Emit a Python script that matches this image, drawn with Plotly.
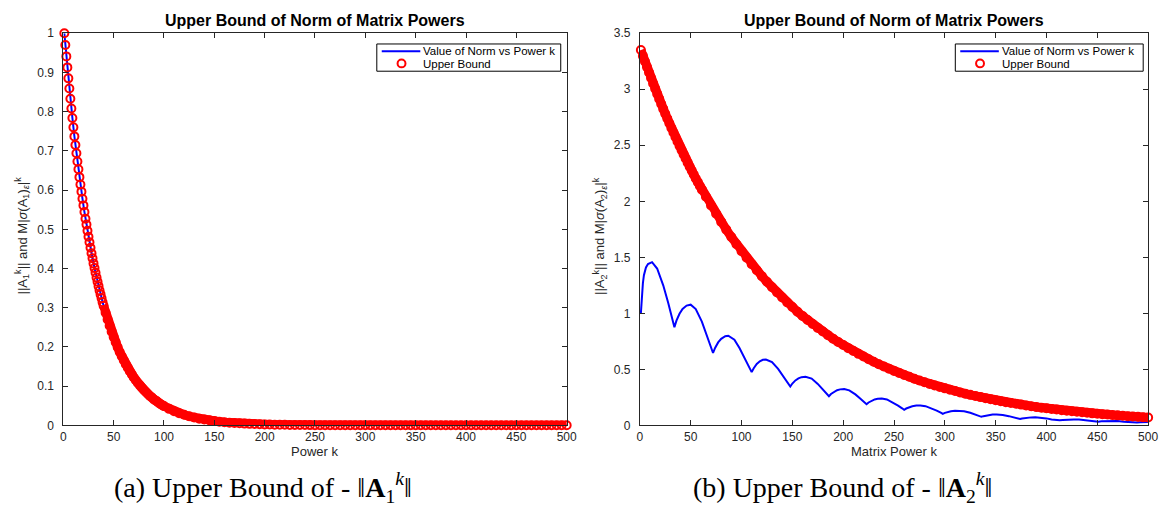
import plotly.graph_objects as go

# ---------------- data ----------------
# Left panel: upper bound markers (k and values)
k_left_mark = list(range(1, 41)) + list(range(42, 101, 2)) + list(range(105, 501, 5))
v_left_mark = [
    1.000, 0.970, 0.941, 0.913, 0.885, 0.859, 0.833, 0.808, 0.784, 0.760,
    0.737, 0.715, 0.694, 0.673, 0.653, 0.633, 0.614, 0.596, 0.578, 0.561,
    0.544, 0.527, 0.512, 0.496, 0.481, 0.467, 0.453, 0.439, 0.426, 0.413,
    0.401, 0.389, 0.377, 0.366, 0.355, 0.344, 0.334, 0.324, 0.314, 0.305,
    # 42..100 step 2
    0.287, 0.270, 0.254, 0.239, 0.225, 0.212, 0.199, 0.187, 0.176, 0.166,
    0.156, 0.147, 0.138, 0.130, 0.122, 0.115, 0.108, 0.102, 0.096, 0.090,
    0.085, 0.080, 0.075, 0.071, 0.066, 0.063, 0.059, 0.055, 0.052, 0.049,
    # 105..200 step 5
    0.042, 0.036, 0.031, 0.027, 0.023, 0.020, 0.017, 0.015, 0.013, 0.011,
    0.0094, 0.0081, 0.0069, 0.0059, 0.0051, 0.0044, 0.0038, 0.0032, 0.0028, 0.0024,
    # 205..300 step 5
    0.0020, 0.0017, 0.0015, 0.0013, 0.0011, 0.0009, 0.0008, 0.0007, 0.0006, 0.0005,
    0.0004, 0.0004, 0.0003, 0.0003, 0.0003, 0.0002, 0.0002, 0.0002, 0.0001, 0.0001,
    # 305..400 step 5
    0.0001, 0.0001, 0.0001, 0.0001, 0.0001, 0.0001, 0.0001, 0.0001, 0.0, 0.0,
    0.0, 0.0, 0.0, 0.0, 0.0, 0.0, 0.0, 0.0, 0.0, 0.0,
    # 405..500 step 5
    0.0, 0.0, 0.0, 0.0, 0.0, 0.0, 0.0, 0.0, 0.0, 0.0,
    0.0, 0.0, 0.0, 0.0, 0.0, 0.0, 0.0, 0.0, 0.0, 0.0,
]

# Left panel: norm line
k_left_line = [1, 3, 5, 7, 9, 11, 13, 15, 17, 19, 21, 23, 25, 27, 29, 31, 33, 35, 37, 39,
               50, 60, 70, 80, 90, 100, 125, 150, 200, 300, 400, 500]
v_left_line = [1.000, 0.941, 0.885, 0.833, 0.784, 0.737, 0.694, 0.653, 0.614, 0.578,
               0.544, 0.512, 0.481, 0.453, 0.426, 0.401, 0.377, 0.355, 0.334, 0.314,
               0.225, 0.166, 0.122, 0.090, 0.066, 0.049, 0.023, 0.011, 0.0024, 0.0001, 0.0, 0.0]

# Right panel: upper bound markers
k_right_mark = list(range(1, 62, 2)) + list(range(65, 501, 5))
v_right_mark = [
    3.350, 3.298, 3.248, 3.198, 3.149, 3.100, 3.052, 3.006, 2.959, 2.914,
    2.869, 2.825, 2.781, 2.739, 2.697, 2.655, 2.614, 2.574, 2.534, 2.495,
    2.457, 2.419, 2.382, 2.345, 2.309, 2.274, 2.239, 2.204, 2.171, 2.137,
    2.104,
    # 65..100
    2.040, 1.962, 1.888, 1.816, 1.747, 1.681, 1.617, 1.555,
    # 105..150
    1.496, 1.439, 1.385, 1.332, 1.281, 1.233, 1.186, 1.141, 1.097, 1.056,
    # 155..200
    1.015, 0.977, 0.940, 0.904, 0.870, 0.837, 0.805, 0.774, 0.745, 0.717,
    # 205..250
    0.689, 0.663, 0.638, 0.614, 0.590, 0.568, 0.546, 0.525, 0.505, 0.486,
    # 255..300
    0.468, 0.450, 0.433, 0.416, 0.400, 0.385, 0.370, 0.356, 0.343, 0.330,
    # 305..350
    0.318, 0.306, 0.294, 0.283, 0.272, 0.262, 0.252, 0.242, 0.233, 0.224,
    # 355..400
    0.216, 0.207, 0.200, 0.192, 0.185, 0.178, 0.171, 0.164, 0.158, 0.152,
    # 405..450
    0.146, 0.141, 0.135, 0.130, 0.125, 0.121, 0.116, 0.112, 0.107, 0.103,
    # 455..500
    0.099, 0.096, 0.092, 0.089, 0.085, 0.082, 0.079, 0.076, 0.073, 0.070,
]

# Right panel: norm line (oscillating)
k_right_line = [1, 2, 3, 4, 6, 8, 12, 17, 23, 28, 32, 34, 36, 39, 42, 46, 50,
                55, 61, 66, 70, 72, 74, 77, 80, 84, 87, 93, 98, 104, 107, 110,
                112, 115, 118, 121, 124, 130, 136, 142, 146, 148, 150, 153, 156, 159, 163,
                169, 175, 180, 184, 186, 188, 191, 194, 197, 201, 206, 212, 217, 221, 223,
                225, 228, 231, 234, 238, 243, 249, 254, 258, 260, 262, 265, 268, 272, 276,
                281, 287, 292, 296, 298, 300, 303, 306, 310, 314, 319, 325, 330, 334, 336,
                338, 341, 344, 347, 351, 357, 363, 368, 372, 374, 376, 379, 382, 385, 389,
                394, 400, 405, 409, 411, 413, 416, 419, 423, 427, 432, 438, 443, 447, 449,
                451, 454, 457, 461, 465, 470, 476, 481, 485, 487, 489, 492, 495, 500]
v_right_line = [1.00, 1.17, 1.27, 1.34, 1.41, 1.44, 1.457, 1.40, 1.25, 1.09, 0.95, 0.875,
                0.934, 0.996, 1.039, 1.069, 1.077,
                1.038, 0.926, 0.805, 0.702, 0.646, 0.691, 0.740, 0.772, 0.795, 0.800,
                0.764, 0.690, 0.582, 0.527, 0.475,
                0.510, 0.548, 0.572, 0.585, 0.588, 0.564, 0.504, 0.431, 0.376, 0.347,
                0.373, 0.401, 0.419, 0.430, 0.434,
                0.417, 0.370, 0.323, 0.283, 0.260, 0.280, 0.300, 0.314, 0.321, 0.324,
                0.312, 0.276, 0.238, 0.206, 0.188,
                0.204, 0.220, 0.231, 0.237, 0.240, 0.231, 0.205, 0.176, 0.152, 0.139,
                0.150, 0.162, 0.170, 0.176, 0.178,
                0.171, 0.152, 0.131, 0.113, 0.103, 0.111, 0.120, 0.125, 0.130, 0.131,
                0.126, 0.112, 0.096, 0.083, 0.076,
                0.082, 0.089, 0.093, 0.096, 0.097, 0.093, 0.082, 0.071, 0.061, 0.056,
                0.061, 0.066, 0.069, 0.071, 0.072,
                0.069, 0.062, 0.053, 0.046, 0.042, 0.045, 0.048, 0.051, 0.053, 0.053,
                0.051, 0.045, 0.039, 0.034, 0.031,
                0.033, 0.036, 0.037, 0.039, 0.039, 0.038, 0.033, 0.029, 0.025, 0.023,
                0.025, 0.027, 0.028, 0.029]

x_ticks = [0, 50, 100, 150, 200, 250, 300, 350, 400, 450, 500]
left_y_ticks = [0, 0.1, 0.2, 0.3, 0.4, 0.5, 0.6, 0.7, 0.8, 0.9, 1]
right_y_ticks = [0, 0.5, 1, 1.5, 2, 2.5, 3, 3.5]

title_text = "Upper Bound of Norm of Matrix Powers"
name_norm = "Value of Norm vs Power k"
name_bound = "Upper Bound"

# ---------------- layout geometry ----------------
W, H = 1171, 516
def px(x):
    return x / W
def py(y):
    return 1 - y / H

LX = [px(61), px(570)]
RX = [px(644), px(1158)]
YD = [py(430), py(27)]

SANS = "Liberation Sans, Arial, Helvetica, sans-serif"
SERIF = "Liberation Serif, Times New Roman, serif"
BLUE = "#0000ff"
RED = "#ff0000"
AXC = "#262626"

fig = go.Figure()

# left panel
fig.add_trace(go.Scatter(x=k_left_line, y=v_left_line, mode="lines",
                         line=dict(color=BLUE, width=2), name=name_norm,
                         xaxis="x", yaxis="y", showlegend=False, cliponaxis=False))
i40 = k_left_mark.index(40)
fig.add_trace(go.Scatter(x=k_left_mark[i40:], y=v_left_mark[i40:], mode="lines",
                         line=dict(color=RED, width=9), showlegend=False,
                         xaxis="x", yaxis="y", cliponaxis=False, hoverinfo="skip"))
fig.add_trace(go.Scatter(x=k_left_mark, y=v_left_mark, mode="markers",
                         marker=dict(symbol="circle-open", size=8, color=RED,
                                     line=dict(width=2, color=RED)),
                         name=name_bound, xaxis="x", yaxis="y", showlegend=False,
                         cliponaxis=False))

# right panel
fig.add_trace(go.Scatter(x=k_right_line, y=v_right_line, mode="lines",
                         line=dict(color=BLUE, width=2), name=name_norm,
                         xaxis="x2", yaxis="y2", showlegend=False, cliponaxis=False))
fig.add_trace(go.Scatter(x=k_right_mark, y=v_right_mark, mode="lines",
                         line=dict(color=RED, width=9), showlegend=False,
                         xaxis="x2", yaxis="y2", cliponaxis=False, hoverinfo="skip"))
fig.add_trace(go.Scatter(x=k_right_mark, y=v_right_mark, mode="markers",
                         marker=dict(symbol="circle-open", size=8, color=RED,
                                     line=dict(width=2, color=RED)),
                         name=name_bound, xaxis="x2", yaxis="y2", showlegend=False,
                         cliponaxis=False))

axis_common = dict(showline=True, linecolor=AXC, linewidth=1, mirror="ticks",
                   ticks="inside", ticklen=5, tickcolor=AXC, showgrid=False,
                   zeroline=False, tickfont=dict(family=SANS, size=12, color=AXC))

fig.update_layout(
    width=W, height=H, margin=dict(l=0, r=0, t=0, b=0),
    paper_bgcolor="white", plot_bgcolor="white", showlegend=False,
    xaxis=dict(domain=LX, range=[0, 500], tickvals=x_ticks, anchor="y", **axis_common),
    yaxis=dict(domain=YD, range=[0, 1], tickvals=left_y_ticks, anchor="x",
               ticklabelstandoff=6, **axis_common),
    xaxis2=dict(domain=RX, range=[0, 500], tickvals=x_ticks, anchor="y2", **axis_common),
    yaxis2=dict(domain=YD, range=[0, 3.5], tickvals=right_y_ticks, anchor="x2",
                ticklabelstandoff=6, **axis_common),
)

ann = []
shapes = []
# titles
for cx in [(LX[0] + LX[1]) / 2, (RX[0] + RX[1]) / 2]:
    ann.append(dict(text="<b>" + title_text + "</b>", x=cx, y=py(14), xref="paper",
                    yref="paper", showarrow=False, xanchor="center", yanchor="middle",
                    font=dict(family=SANS, size=16, color="#000000")))

# legends (boxed, MATLAB style)
for lx0, lx1 in [(378, 564), (963, 1153)]:
    shapes.append(dict(type="rect", xref="paper", yref="paper",
                       x0=px(lx0), x1=px(lx1), y0=py(66), y1=py(38),
                       line=dict(color="#000000", width=1), fillcolor="white", layer="above"))
    shapes.append(dict(type="line", xref="paper", yref="paper",
                       x0=px(lx0 + 5), x1=px(lx0 + 44), y0=py(45.5), y1=py(45.5),
                       line=dict(color=BLUE, width=2), layer="above"))
    shapes.append(dict(type="circle", xref="paper", yref="paper",
                       x0=px(lx0 + 21), x1=px(lx0 + 29), y0=py(62), y1=py(54),
                       line=dict(color=RED, width=2), layer="above"))
    ann.append(dict(text=name_norm, x=px(lx0 + 45), y=py(45.5), xref="paper", yref="paper",
                    showarrow=False, xanchor="left", yanchor="middle",
                    font=dict(family=SANS, size=11.5, color="#000000")))
    ann.append(dict(text=name_bound, x=px(lx0 + 45), y=py(58.5), xref="paper", yref="paper",
                    showarrow=False, xanchor="left", yanchor="middle",
                    font=dict(family=SANS, size=11.5, color="#000000")))

# x labels
ann.append(dict(text="Power k", x=(LX[0] + LX[1]) / 2, y=py(457), xref="paper", yref="paper",
                showarrow=False, xanchor="center", yanchor="middle",
                font=dict(family=SANS, size=13, color=AXC)))
ann.append(dict(text="Matrix Power k", x=(RX[0] + RX[1]) / 2, y=py(457), xref="paper",
                yref="paper", showarrow=False, xanchor="center", yanchor="middle",
                font=dict(family=SANS, size=13, color=AXC)))
# y labels
ylab1 = "||A<sub>1</sub><sup>k</sup>|| and M|<i>σ</i>(A<sub>1</sub>)<sub><i>ε</i></sub>|<sup>k</sup>"
ylab2 = "||A<sub>2</sub><sup>k</sup>|| and M|<i>σ</i>(A<sub>2</sub>)<sub><i>ε</i></sub>|<sup>k</sup>"
ann.append(dict(text=ylab1, x=px(19), y=py(235), xref="paper", yref="paper", textangle=-90,
                showarrow=False, xanchor="center", yanchor="middle",
                font=dict(family=SANS, size=13, color=AXC)))
ann.append(dict(text=ylab2, x=px(603), y=py(235), xref="paper", yref="paper", textangle=-90,
                showarrow=False, xanchor="center", yanchor="middle",
                font=dict(family=SANS, size=13, color=AXC)))
# captions
cap1 = "(a) Upper Bound of - ‖<b>A</b><sub>1</sub><sup><i>k</i></sup>‖"
cap2 = "(b) Upper Bound of - ‖<b>A</b><sub>2</sub><sup><i>k</i></sup>‖"
ann.append(dict(text=cap1, x=px(263), y=py(494), xref="paper", yref="paper",
                showarrow=False, xanchor="center", yanchor="middle",
                font=dict(family=SERIF, size=28, color="#000000")))
ann.append(dict(text=cap2, x=px(849), y=py(494), xref="paper", yref="paper",
                showarrow=False, xanchor="center", yanchor="middle",
                font=dict(family=SERIF, size=28, color="#000000")))
fig.update_layout(annotations=ann, shapes=shapes)

fig.write_html("out.html")
